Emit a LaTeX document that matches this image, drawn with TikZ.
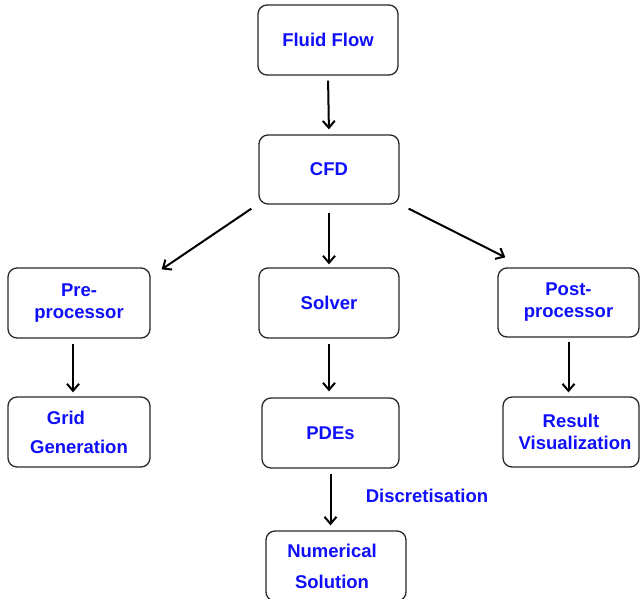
\documentclass[tikz,border=0pt]{standalone}
\usepackage{fontspec}
\setmainfont{Liberation Sans}
\usetikzlibrary{arrows.meta,calc}
\definecolor{txtblue}{RGB}{15,15,250}
\definecolor{boxline}{RGB}{40,40,40}
\tikzset{
  box/.style={draw=boxline, line width=1.3pt, rounded corners=9pt, fill=white,
    align=center, text=txtblue, font=\fontsize{18.5}{22}\selectfont\bfseries,
    inner sep=0pt},
  conn/.style={draw=black, line width=2pt, -{Straight Barb[length=7pt,width=12pt,line width=2pt]}},
  lbl/.style={text=txtblue, font=\fontsize{18.5}{22}\selectfont\bfseries, inner sep=0pt}
}
\begin{document}
\begin{tikzpicture}[x=1pt,y=-1pt]
\clip (0,0) rectangle (640,598);
\useasboundingbox (0,0) rectangle (640,598);
\fill[white] (0,0) rectangle (640,598);

\node[box, minimum width=140pt, minimum height=70pt] (flow) at (328,40) {Fluid Flow};
\node[box, minimum width=140pt, minimum height=69pt] (cfd) at (329,169.5) {CFD};
\node[box, minimum width=142pt, minimum height=70pt] (pre) at (79,303) {Pre-\\processor};
\node[box, minimum width=140pt, minimum height=70pt] (solver) at (329,303) {Solver};
\node[box, minimum width=141pt, minimum height=69pt] (post) at (568.5,302.5) {Post-\\processor};
\node[box, minimum width=142pt, minimum height=70pt] (grid) at (79,432) {\hbox{Grid\kern26pt}\\[7pt]Generation};
\node[box, minimum width=137pt, minimum height=70pt] (pdes) at (330.5,433) {PDEs};
\node[box, minimum width=136pt, minimum height=70pt] (result) at (571,432) {\hbox{Result}\\\hbox{\kern8pt Visualization}};
\node[box, minimum width=140pt, minimum height=70pt] (num) at (336,566) {\hbox{Numerical\kern8pt}\\[9pt]\hbox{Solution\kern8pt}};

\node[lbl] (disc) at (427,496) {Discretisation};

\draw[conn, shorten <=5pt, shorten >=5pt] (flow.south) -- (cfd.north);
\draw[conn, shorten <=8pt, shorten >=3pt] (cfd.south) -- (solver.north);
\draw[conn, shorten <=5pt, shorten >=6pt] (solver.south) -- (solver.south |- pdes.north);
\draw[conn, shorten <=5pt, shorten >=5pt] (pdes.south) -- (pdes.south |- num.north);
\draw[conn, shorten <=5pt, shorten >=4pt] ($(pre.south)+(-6,0)$) -- ($(grid.north)+(-6,0)$);
\draw[conn, shorten <=4pt, shorten >=4pt] (post.south) -- (post.south |- result.north);
\draw[conn] ($(cfd.south west)+(-7,4)$) -- ($(pre.north east)+(11,2)$);
\draw[conn] ($(cfd.south east)+(9,4)$) -- ($(post.north west)+(8,-10)$);
\end{tikzpicture}
\end{document}
